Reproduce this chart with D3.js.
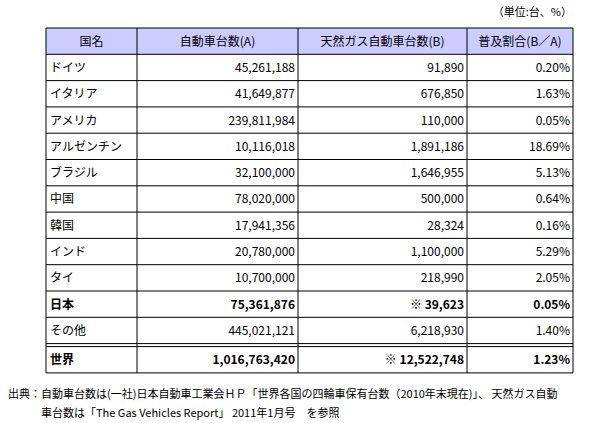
<!DOCTYPE html>
<html><head><meta charset="utf-8">
<script src="https://cdn.jsdelivr.net/npm/d3@7"></script>
<style>body{margin:0;background:#fff;font-family:"Noto Sans CJK JP",sans-serif;}</style>
</head><body><div id="chart"></div>
<script>
const headers = ["国名", "自動車台数(A)", "天然ガス自動車台数(B)", "普及割合(B／A)"];
const countries = ["ドイツ", "イタリア", "アメリカ", "アルゼンチン", "ブラジル", "中国", "韓国", "インド", "タイ", "日本", "その他", "世界"];
const vehicles = ["45,261,188", "41,649,877", "239,811,984", "10,116,018", "32,100,000", "78,020,000", "17,941,356", "20,780,000", "10,700,000", "75,361,876", "445,021,121", "1,016,763,420"];
const gasVehicles = ["91,890", "676,850", "110,000", "1,891,186", "1,646,955", "500,000", "28,324", "1,100,000", "218,990", "※ 39,623", "6,218,930", "※ 12,522,748"];
const shares = ["0.20%", "1.63%", "0.05%", "18.69%", "5.13%", "0.64%", "0.16%", "5.29%", "2.05%", "0.05%", "1.40%", "1.23%"];
const boldRows = ["日本", "世界"];

const W = 610, H = 423;
const svg = d3.select("#chart").append("svg").attr("width", W).attr("height", H);

// column edges
const colX = [46, 137, 298, 467, 573];
const tableTop = 28, rowH = 26.3, gap = 3;
const rowY = i => tableTop + rowH * (i + 1) + (i >= 11 ? gap : 0);  // i = data row index
const tableBottom = rowY(11) + rowH;

svg.append("text").attr("x", 572).attr("y", 16).attr("text-anchor", "end")
  .attr("font-size", 11).text("（単位:台、%）");

// header
svg.append("rect").attr("x", colX[0]).attr("y", tableTop).attr("width", colX[4] - colX[0])
  .attr("height", rowH).attr("fill", "#ccccff");
headers.forEach((h, j) => {
  svg.append("text").attr("x", (colX[j] + colX[j + 1]) / 2).attr("y", tableTop + rowH / 2 + 4.5)
    .attr("text-anchor", "middle").attr("font-size", 12).text(h);
});

const rows = countries.map((c, i) => ({c, a: vehicles[i], b: gasVehicles[i], s: shares[i], bold: boldRows.includes(c)}));
const g = svg.selectAll("g.row").data(rows).enter().append("g")
  .attr("transform", (d, i) => `translate(0,${rowY(i) + rowH / 2 + 4.5})`)
  .attr("font-size", 12).attr("font-weight", d => d.bold ? "bold" : "normal");
g.append("text").attr("x", colX[0] + 4).text(d => d.c);
g.append("text").attr("x", colX[2] - 3).attr("text-anchor", "end").text(d => d.a);
g.append("text").attr("x", colX[3] - 3).attr("text-anchor", "end").text(d => d.b);
g.append("text").attr("x", colX[4] - 3).attr("text-anchor", "end").text(d => d.s);

// grid lines
const line = (x1, y1, x2, y2) => svg.append("line").attr("x1", x1).attr("y1", y1).attr("x2", x2).attr("y2", y2)
  .attr("stroke", "#000").attr("stroke-width", 1);
line(colX[0], tableTop, colX[4], tableTop);
for (let i = 0; i <= 11; i++) line(colX[0], rowY(i), colX[4], rowY(i));
line(colX[0], rowY(10) + rowH, colX[4], rowY(10) + rowH);
line(colX[0], tableBottom, colX[4], tableBottom);
colX.forEach(x => line(x, tableTop, x, tableBottom));

const foot = svg.append("g").attr("font-size", 11);
foot.append("text").attr("x", 8).attr("y", 398)
  .text("出典：自動車台数は(一社)日本自動車工業会ＨＰ「世界各国の四輪車保有台数（2010年末現在)」、 天然ガス自動");
foot.append("text").attr("x", 41).attr("y", 417)
  .text("車台数は「The Gas Vehicles Report」 2011年1月号　を参照");
</script></body></html>
